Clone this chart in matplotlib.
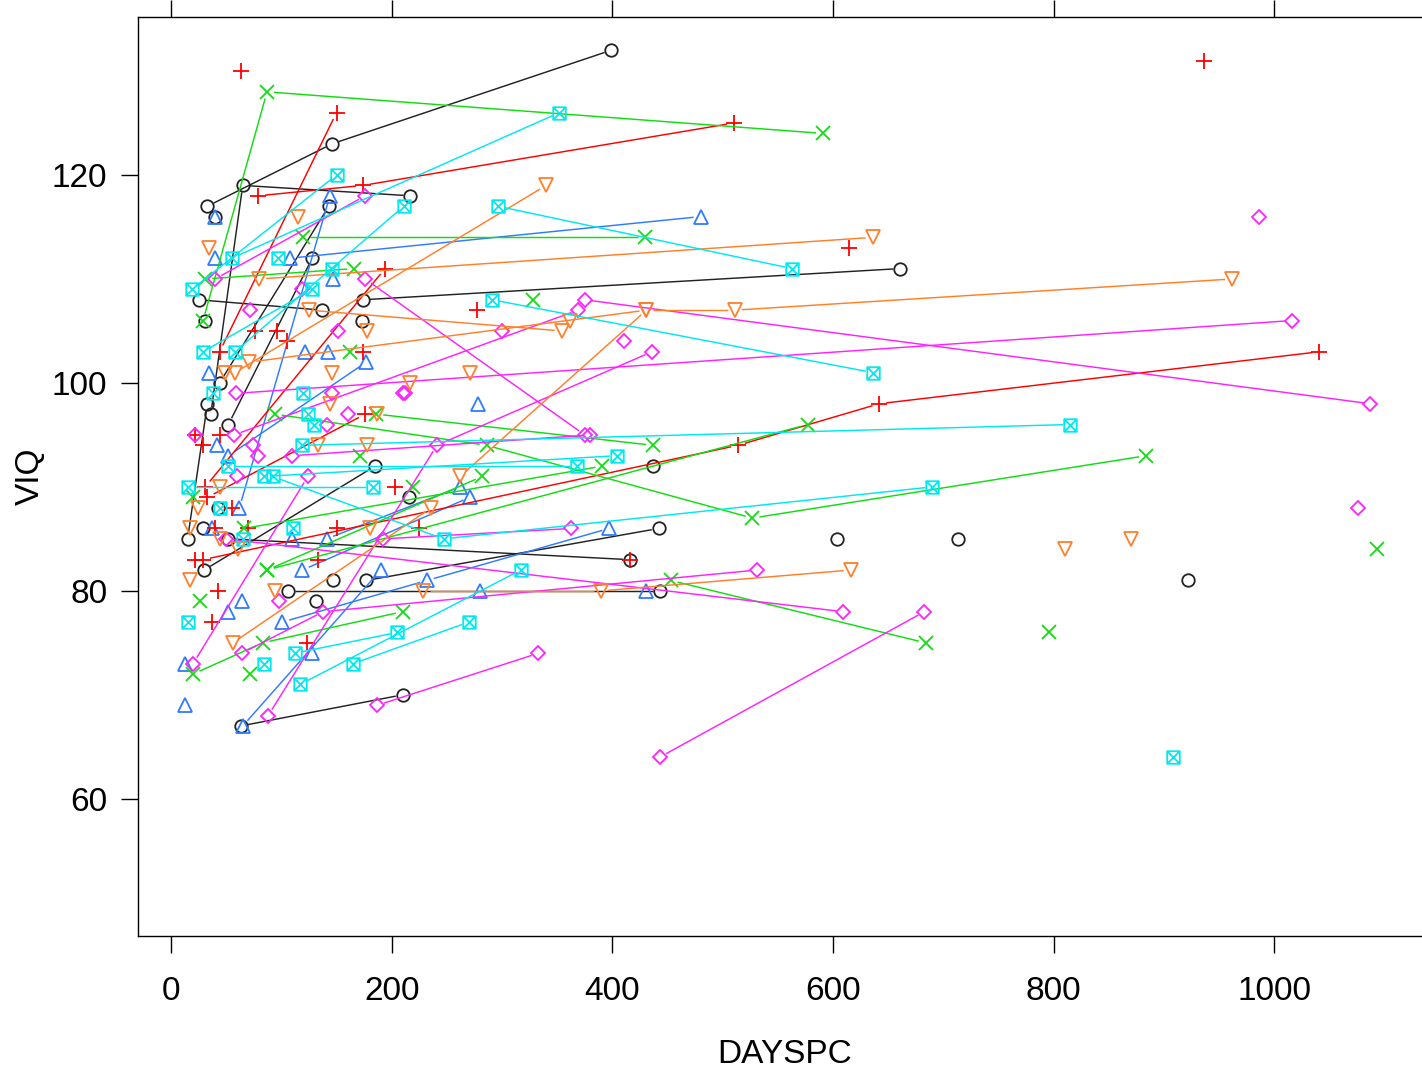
import numpy as np
import matplotlib
matplotlib.use("Agg")
import matplotlib.pyplot as plt
from matplotlib.path import Path

# VIQ against days post coma, one polyline per subject (days, viq)
black_subjects = [
    ([33, 146, 399], [117, 123, 132]), ([36, 65, 217], [97, 119, 118]),
    ([174, 661], [108, 111]), ([25, 137], [108, 107]), ([30, 185], [82, 92]),
    ([106, 443], [80, 80]), ([52, 416], [85, 83]), ([177, 442], [81, 86]),
    ([63, 210], [67, 70]), ([44, 143], [100, 117]), ([52, 128], [96, 112]),
    ([15, 33], [85, 98]),
    ([437], [92]), ([604], [85]), ([713], [85]), ([922], [81]), ([216], [89]),
    ([31], [106]), ([173], [106]), ([40], [116]), ([29], [86]), ([43], [88]),
    ([147], [81]), ([131], [79]),
]
blue_subjects = [
    ([108, 480], [112, 116]), ([101, 232, 397], [77, 81, 86]), ([141, 262], [85, 90]),
    ([65, 190], [67, 82]), ([119, 271], [82, 89]), ([62, 144], [88, 118]),
    ([52, 177], [93, 102]),
    ([34], [101]), ([121], [103]), ([142], [103]), ([42], [94]), ([37], [86]),
    ([110], [85]), ([64], [79]), ([52], [78]),
    ([128], [74]), ([13], [73]), ([13], [69]), ([278], [98]), ([280], [80]),
    ([431], [80]), ([40], [116]), ([147], [110]), ([40], [112]),
]
red_subjects = [
    ([44, 150], [103, 126]), ([79, 174, 510], [118, 119, 125]),
    ([29, 514, 642, 1041], [83, 94, 98, 103]), ([31, 194], [90, 111]),
    ([33, 176], [89, 97]),
    ([63], [130]), ([615], [113]), ([936], [131]), ([416], [83]), ([277], [107]),
    ([22], [95]), ([44], [95]), ([29], [94]), ([55], [88]), ([40], [86]),
    ([70], [86]), ([150], [86]), ([203], [90]), ([133], [83]), ([22], [83]),
    ([43], [80]), ([37], [77]), ([123], [75]), ([76], [105]), ([96], [105]),
    ([105], [104]), ([174], [103]), ([225], [86]),
]
green_subjects = [
    ([29, 87, 591], [106, 128, 124]), ([120, 430], [114, 114]), ([31, 166], [110, 111]),
    ([186, 437], [97, 94]), ([94, 286, 527, 884], [97, 94, 87, 93]),
    ([87, 577], [82, 96]), ([87, 282], [82, 91]), ([453, 684], [81, 75]),
    ([20, 83, 210], [72, 75, 78]), ([66, 391], [86, 92]),
    ([328], [108]), ([796], [76]), ([1093], [84]), ([72], [72]), ([26], [79]),
    ([219], [90]), ([171], [93]), ([162], [103]), ([20], [89]),
]
magenta_subjects = [
    ([59, 1016], [99, 106]), ([375, 1087], [108, 98]), ([57, 369], [95, 107]),
    ([88, 241, 436], [68, 94, 103]), ([176, 375], [110, 95]), ([110, 380], [93, 95]),
    ([443, 683], [64, 78]), ([64, 138, 531], [74, 78, 82]), ([50, 609], [85, 78]),
    ([192, 363], [85, 86]), ([187, 333], [69, 74]), ([20, 124], [73, 91]),
    ([40, 176], [110, 118]),
    ([986], [116]), ([1076], [88]), ([411], [104]), ([300], [105]), ([212], [99]),
    ([72], [107]), ([119], [109]), ([151], [105]), ([146], [99]), ([210], [99]),
    ([160], [97]), ([141], [96]), ([74], [94]), ([79], [93]), ([60], [91]),
    ([98], [79]), ([22], [95]),
]
orange_subjects = [
    ([58, 340], [101, 119]), ([80, 636], [110, 114]),
    ([71, 431, 511, 962], [102, 107, 107, 110]), ([262, 431], [91, 107]),
    ([125, 354], [107, 105]), ([228, 390, 616], [80, 80, 82]),
    ([56, 236], [75, 88]),
    ([271], [101]), ([217], [100]), ([810], [84]), ([870], [85]), ([362], [106]),
    ([17], [81]), ([17], [86]), ([44], [85]), ([61], [84]), ([34], [113]),
    ([49], [101]), ([146], [101]), ([178], [105]), ([144], [98]), ([187], [97]),
    ([115], [116]), ([44], [90]), ([24], [88]), ([133], [94]), ([178], [94]),
    ([180], [86]), ([94], [80]),
]
cyan_subjects = [
    ([55, 352], [112, 126]), ([19, 150], [109, 120]), ([58, 211], [103, 117]),
    ([296, 563], [117, 111]), ([291, 636], [108, 101]), ([119, 815], [94, 96]),
    ([92, 247, 690], [91, 85, 90]), ([84, 404], [91, 93]), ([52, 368], [92, 92]),
    ([15, 183], [90, 90]), ([117, 317], [71, 82]), ([165, 270], [73, 77]),
    ([112, 205], [74, 76]), ([29, 128], [103, 109]),
    ([908], [64]), ([84], [73]), ([15], [77]), ([97], [112]), ([38], [99]),
    ([120], [99]), ([124], [97]), ([44], [88]), ([65], [85]), ([130], [96]),
    ([111], [86]), ([146], [111]),
]

# square with a cross, like R's pch 7
box_x = Path(
    [(-1, -1), (1, -1), (1, 1), (-1, 1), (-1, -1), (-1, -1), (1, 1), (-1, 1), (1, -1)],
    [Path.MOVETO, Path.LINETO, Path.LINETO, Path.LINETO, Path.CLOSEPOLY,
     Path.MOVETO, Path.LINETO, Path.MOVETO, Path.LINETO],
)

groups = [
    (black_subjects, "#222222", "o", 9),
    (blue_subjects, "#2f7bff", "^", 10),
    (red_subjects, "#ff0000", "+", 11),
    (green_subjects, "#11dd11", "x", 10),
    (magenta_subjects, "#ff22ff", "D", 7.5),
    (orange_subjects, "#ff7f2a", "v", 10),
    (cyan_subjects, "#00e8f0", box_x, 9),
]

plt.rcParams["font.family"] = ["Liberation Sans", "DejaVu Sans"]

fig = plt.figure(figsize=(14.22, 10.75), dpi=100)
ax = fig.add_axes([0.0970, 0.1293, 0.910, 0.8549])
ax.set_xlim(-30, 1143)
ax.set_ylim(46.8, 135.2)


def draw_subject(days, viq, color, marker, ms, gap=7.0):
    # lines stop short of the symbols, as in R's type = "b"
    pts = ax.transData.transform(np.column_stack([days, viq]).astype(float))
    inv = ax.transData.inverted()
    for p, q in zip(pts[:-1], pts[1:]):
        d = q - p
        n = np.hypot(*d)
        if n <= 2 * gap:
            continue
        u = d / n
        seg = inv.transform(np.array([p + u * gap, q - u * gap]))
        ax.plot(seg[:, 0], seg[:, 1], color=color, lw=1.05, solid_capstyle="butt")
    ax.plot(days, viq, ls="none", marker=marker, ms=ms, mfc="none",
            mec=color, mew=1.3)


for subjects, color, marker, ms in groups:
    for days, viq in subjects:
        draw_subject(days, viq, color, marker, ms)

ax.set_xticks([0, 200, 400, 600, 800, 1000])
ax.set_yticks([60, 80, 100, 120])
ax.tick_params(direction="out", length=12, width=1, labelsize=24,
               top=True, labeltop=False)
ax.tick_params(axis="x", pad=17)
ax.tick_params(axis="y", pad=10)
for s in ax.spines.values():
    s.set_linewidth(1)
ax.set_xlabel("DAYSPC", fontsize=24, labelpad=23)
ax.set_ylabel("VIQ", fontsize=24, labelpad=4)

fig.savefig("out.png", dpi=100)
